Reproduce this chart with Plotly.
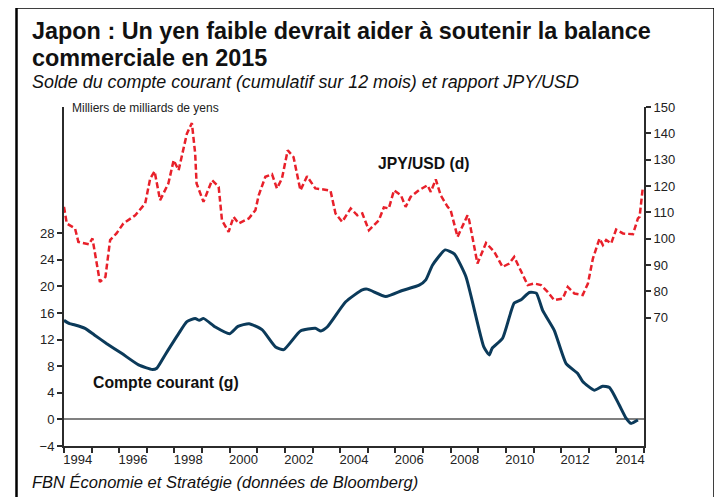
import plotly.graph_objects as go

# ---- Data ----
cc_years = [1994.00, 1994.20, 1994.40, 1994.76, 1995.10, 1995.55, 1996.10, 1996.70, 1997.20, 1997.36,
            1997.66, 1998.15, 1998.45, 1998.75, 1998.90, 1999.05, 1999.48, 2000.00, 2000.30, 2000.70,
            2001.17, 2001.66, 2001.96, 2002.56, 2003.10, 2003.30, 2003.53, 2004.20, 2004.80, 2004.98,
            2005.65, 2006.25, 2006.86, 2007.10, 2007.34, 2007.80, 2008.13, 2008.55, 2009.20, 2009.40,
            2009.50, 2009.88, 2010.30, 2010.55, 2010.85, 2011.10, 2011.33, 2011.75, 2012.18, 2012.60,
            2012.78, 2013.20, 2013.50, 2013.75, 2014.10, 2014.35, 2014.53, 2014.78]
cc_values = [14.9, 14.4, 14.2, 13.7, 12.7, 11.4, 9.9, 8.2, 7.5, 7.7,
             9.7, 12.9, 14.7, 15.2, 14.9, 15.2, 13.9, 12.9, 14.0, 14.4,
             13.5, 10.9, 10.5, 13.3, 13.7, 13.3, 13.9, 17.7, 19.5, 19.6,
             18.5, 19.4, 20.2, 21.0, 23.2, 25.5, 24.9, 21.5, 10.9, 9.7,
             10.7, 12.2, 17.5, 18.0, 19.1, 19.0, 16.4, 13.4, 8.4, 6.9,
             5.7, 4.4, 5.0, 4.8, 2.2, 0.2, -0.6, -0.1]

fx_years = [1994.00, 1994.10, 1994.40, 1994.52, 1994.90, 1995.03, 1995.30, 1995.50, 1995.67, 1995.90,
            1996.15, 1996.58, 1996.94, 1997.12, 1997.28, 1997.48, 1997.78, 1997.97, 1998.15, 1998.45,
            1998.63, 1998.75, 1998.80, 1999.05, 1999.36, 1999.60, 1999.72, 1999.96, 2000.14, 2000.32,
            2000.69, 2000.93, 2001.05, 2001.29, 2001.53, 2001.71, 2001.89, 2002.10, 2002.31, 2002.56,
            2002.80, 2003.10, 2003.40, 2003.65, 2003.83, 2004.07, 2004.38, 2004.62, 2004.80, 2005.04,
            2005.40, 2005.58, 2005.76, 2005.95, 2006.20, 2006.37, 2006.55, 2006.85, 2007.16, 2007.28,
            2007.46, 2007.64, 2007.89, 2008.00, 2008.25, 2008.61, 2008.67, 2008.97, 2009.28, 2009.58,
            2009.88, 2010.12, 2010.30, 2010.48, 2010.79, 2011.03, 2011.27, 2011.51, 2011.75, 2012.06,
            2012.24, 2012.48, 2012.78, 2012.97, 2013.15, 2013.39, 2013.51, 2013.63, 2013.81, 2013.99,
            2014.24, 2014.60, 2014.78, 2014.84, 2014.96]
fx_values = [112.1, 105.8, 103.9, 98.8, 97.9, 100.1, 83.6, 85.5, 99.5, 102.0,
             105.8, 108.9, 113.4, 122.8, 125.6, 114.6, 121.0, 129.8, 126.0, 139.9,
             143.9, 132.3, 121.0, 114.0, 122.2, 119.7, 107.0, 102.6, 108.3, 105.8,
             107.7, 110.8, 116.5, 123.5, 124.5, 119.1, 122.8, 133.6, 131.0, 118.4,
             123.7, 119.1, 118.7, 118.2, 109.6, 106.4, 111.5, 108.9, 109.6, 103.2,
             107.0, 111.9, 111.5, 118.4, 116.5, 112.1, 115.9, 118.4, 120.3, 117.8,
             122.5, 116.5, 112.1, 110.8, 100.7, 108.9, 107.0, 90.6, 98.4, 95.0,
             89.3, 90.6, 93.1, 89.3, 82.4, 83.0, 82.4, 79.8, 76.7, 77.3,
             81.7, 79.2, 78.6, 83.0, 92.5, 100.1, 97.6, 99.5, 98.2, 103.5,
             102.0, 101.7, 107.7, 108.3, 119.7]

year_ticks = list(range(1994, 2016))
label_years = list(range(1994, 2015, 2))
left_ticks = [-4, 0, 4, 8, 12, 16, 20, 24, 28]
right_ticks = [70, 80, 90, 100, 110, 120, 130, 140, 150]

# ---- Geometry helpers (page pixel coordinates; page body has an 8px margin) ----
OFF = 8
W, H = 722 - OFF, 497 - OFF
L, R, T, B = 64, 644, 107, 446   # plot area in page pixels


def px(x):
    return (x - L) / (R - L)


def py(y):
    return (B - y) / (B - T)


FONT = "Liberation Sans, Arial, sans-serif"
AX = "#2b2b2b"

fig = go.Figure()
fig.add_trace(go.Scatter(x=cc_years, y=cc_values, mode="lines", yaxis="y",
                         line=dict(color="#0b3a5a", width=3, shape="spline", smoothing=0.5),
                         showlegend=False))
fig.add_trace(go.Scatter(x=fx_years, y=fx_values, mode="lines", yaxis="y2",
                         line=dict(color="#e8202a", width=2.5, dash="6px,3px"), showlegend=False))

fig.update_layout(
    width=W, height=H,
    margin=dict(l=L - OFF, r=(W + OFF) - R, t=T - OFF, b=(H + OFF) - B, pad=0),
    paper_bgcolor="white", plot_bgcolor="white",
    font=dict(family=FONT, color="#222", size=13),
    xaxis=dict(range=[1994, 2015], showgrid=False, zeroline=False,
               showline=True, linecolor=AX, linewidth=2,
               tickmode="array", tickvals=[y + 0.5 for y in label_years],
               ticktext=[str(y) for y in label_years], ticks="",
               tickfont=dict(size=13),
               minor=dict(tickmode="array", tickvals=year_ticks, ticks="outside",
                          ticklen=5, tickwidth=1.5, tickcolor=AX)),
    yaxis=dict(range=[-4, 47.0], showgrid=False, tickmode="array", tickvals=left_ticks,
               ticks="outside", ticklen=5, tickwidth=1.5, tickcolor=AX,
               showline=True, linecolor=AX, linewidth=2,
               zeroline=True, zerolinecolor="#808080", zerolinewidth=1.5,
               tickfont=dict(size=13)),
    yaxis2=dict(range=[21.33, 150], overlaying="y", side="right", anchor="x",
                showgrid=False, zeroline=False, tickmode="array", tickvals=right_ticks,
                ticks="outside", ticklen=5, tickwidth=1.5, tickcolor=AX,
                showline=True, linecolor=AX, linewidth=2, tickfont=dict(size=13)),
)

annots = [
    dict(text="<b>Japon : Un yen faible devrait aider à soutenir la balance</b>", x=px(30), y=py(31),
         font=dict(size=23.4, color="#111")),
    dict(text="<b>commerciale en 2015</b>", x=px(30), y=py(58), font=dict(size=23.4, color="#111")),
    dict(text="<i>Solde du compte courant (cumulatif sur 12 mois) et rapport JPY/USD</i>",
         x=px(30), y=py(82.5), font=dict(size=17.9, color="#111")),
    dict(text="Milliers de milliards de yens", x=px(70), y=py(108), font=dict(size=12, color="#222")),
    dict(text="<i>FBN Économie et Stratégie (données de Bloomberg)</i>", x=px(30), y=py(482),
         font=dict(size=16.5, color="#111")),
    dict(text="<b>JPY/USD (d)</b>", x=px(376), y=py(163.5), font=dict(size=15.7, color="#111")),
    dict(text="<b>Compte courant (g)</b>", x=px(91), y=py(382), font=dict(size=15.8, color="#111")),
]
for a in annots:
    fig.add_annotation(xref="paper", yref="paper", xanchor="left", yanchor="middle",
                       showarrow=False, **a)

fig.add_shape(type="rect", xref="paper", yref="paper",
              x0=px(16.5), x1=px(714.5), y0=py(540), y1=py(7.5),
              line=dict(color="black", width=2.5), fillcolor="rgba(0,0,0,0)", layer="above")

fig.write_html("out.html")
